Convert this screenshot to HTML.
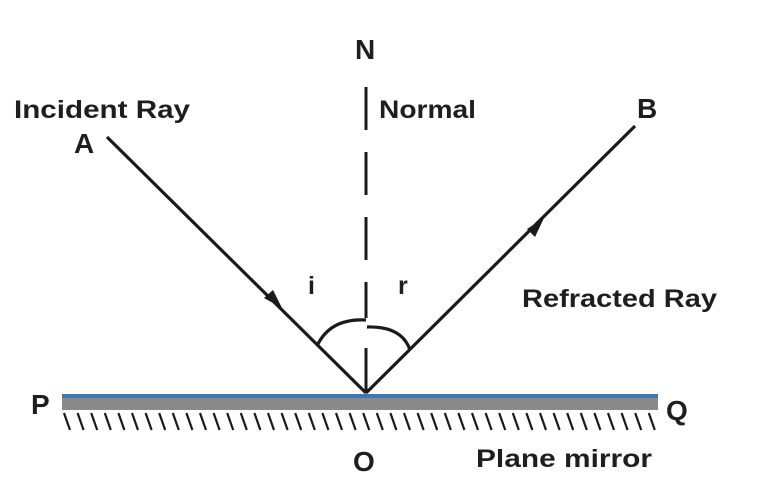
<!DOCTYPE html>
<html><head><meta charset="utf-8"><style>
html,body{margin:0;padding:0;background:#fff;width:761px;height:483px;overflow:hidden}
svg text{font-family:"Liberation Sans",sans-serif;font-weight:bold;fill:#1e1e1e}
</style></head><body>
<svg width="761" height="483" viewBox="0 0 761 483" xmlns="http://www.w3.org/2000/svg">
<rect width="761" height="483" fill="#fff"/>
<g stroke="#1a1a1a" stroke-width="3">
<line x1="366" y1="87" x2="366" y2="130"/>
<line x1="366" y1="152" x2="366" y2="195"/>
<line x1="366" y1="217" x2="366" y2="260"/>
<line x1="366" y1="282" x2="366" y2="318"/>
<line x1="366" y1="348" x2="366" y2="393"/>
</g>
<g stroke="#1a1a1a" stroke-width="3.2" fill="none">
<line x1="107" y1="137" x2="366" y2="393"/>
<line x1="366" y1="393" x2="635" y2="126"/>
<path d="M317,346 Q330,318 366,320"/>
<path d="M367,327 Q402,326 410,350"/>
</g>
<polygon points="282,308 264,298 273,290" fill="#1a1a1a"/>
<polygon points="544,218 535,237 527,229" fill="#1a1a1a"/>
<rect x="62" y="398" width="596" height="12" fill="#8a8a8a"/>
<rect x="62" y="394" width="596" height="4" fill="#3f77b3"/>
<path stroke="#1a1a1a" stroke-width="2.2" fill="none" d="
M64,413l6,17 M77.6,413l6,17 M91.2,413l6,17 M104.8,413l6,17 M118.4,413l6,17 M132,413l6,17 M145.6,413l6,17 M159.2,413l6,17 M172.8,413l6,17 M186.4,413l6,17
M200,413l6,17 M213.6,413l6,17 M227.2,413l6,17 M240.8,413l6,17 M254.4,413l6,17 M268,413l6,17 M281.6,413l6,17 M295.2,413l6,17 M308.8,413l6,17 M322.4,413l6,17
M336,413l6,17 M349.6,413l6,17 M363.2,413l6,17 M376.8,413l6,17 M390.4,413l6,17 M404,413l6,17 M417.6,413l6,17 M431.2,413l6,17 M444.8,413l6,17 M458.4,413l6,17
M472,413l6,17 M485.6,413l6,17 M499.2,413l6,17 M512.8,413l6,17 M526.4,413l6,17 M540,413l6,17 M553.6,413l6,17 M567.2,413l6,17 M580.8,413l6,17 M594.4,413l6,17
M608,413l6,17 M621.6,413l6,17 M635.2,413l6,17 M648.8,413l6,17"/>
<text x="14" y="118" font-size="25" textLength="176" lengthAdjust="spacingAndGlyphs">Incident Ray</text>
<text x="74" y="153" font-size="28">A</text>
<text x="355" y="59" font-size="28">N</text>
<text x="379" y="118" font-size="25" textLength="97" lengthAdjust="spacingAndGlyphs">Normal</text>
<text x="637" y="118" font-size="28">B</text>
<text x="308" y="294" font-size="25">i</text>
<text x="398" y="294" font-size="25">r</text>
<text x="522" y="307" font-size="25" textLength="195" lengthAdjust="spacingAndGlyphs">Refracted Ray</text>
<text x="31" y="414" font-size="28">P</text>
<text x="666" y="420" font-size="28">Q</text>
<text x="353" y="471" font-size="28">O</text>
<text x="476" y="467" font-size="25" textLength="176" lengthAdjust="spacingAndGlyphs">Plane mirror</text>
</svg>
</body></html>
